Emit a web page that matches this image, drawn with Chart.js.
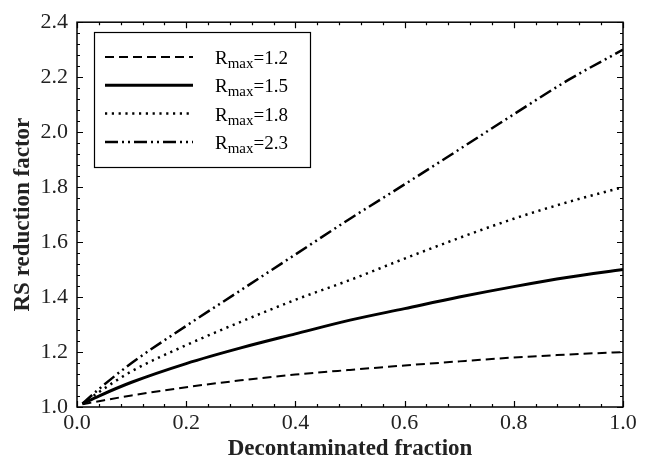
<!DOCTYPE html>
<html>
<head>
<meta charset="utf-8">
<script src="https://cdn.jsdelivr.net/npm/chart.js@4.4.1/dist/chart.umd.min.js"></script>
<style>
  html, body { margin: 0; padding: 0; background: #fff; }
</style>
</head>
<body>
<canvas id="chart" width="646" height="463"></canvas>
<script>
// values
const fraction = [0.01, 0.04, 0.1, 0.2, 0.3, 0.4, 0.5, 0.6, 0.7, 0.8, 0.9, 1.0];
const rmax12 = [1.010, 1.021, 1.042, 1.072, 1.097, 1.118, 1.135, 1.151, 1.166, 1.180, 1.191, 1.200];
const rmax15 = [1.012, 1.040, 1.090, 1.158, 1.215, 1.266, 1.316, 1.358, 1.400, 1.438, 1.472, 1.500];
const rmax18 = [1.012, 1.054, 1.130, 1.225, 1.310, 1.390, 1.462, 1.540, 1.615, 1.685, 1.746, 1.800];
const rmax23 = [1.012, 1.065, 1.160, 1.295, 1.425, 1.555, 1.685, 1.810, 1.937, 2.065, 2.190, 2.300];
const rmaxLabels = ['1.2', '1.5', '1.8', '2.3'];
const xTicks = [0, 0.2, 0.4, 0.6, 0.8, 1.0];
const yTicks = [1.0, 1.2, 1.4, 1.6, 1.8, 2.0, 2.2, 2.4];

const SERIF = '"Liberation Serif", "DejaVu Serif", serif';

function pts(ys) {
  return fraction.map((x, i) => ({ x, y: ys[i] }));
}

const styles = [
  { borderWidth: 2, borderDash: [9, 5] },
  { borderWidth: 3, borderDash: [] },
  { borderWidth: 2.5, borderDash: [2.2, 4.6] },
  { borderWidth: 2.5, borderDash: [13, 4, 2, 4, 2, 4] },
];

const datasets = [rmax12, rmax15, rmax18, rmax23].map((ys, i) => ({
  label: 'Rmax=' + rmaxLabels[i],
  data: pts(ys),
  borderColor: '#000',
  borderWidth: styles[i].borderWidth,
  borderDash: styles[i].borderDash,
  pointRadius: 0,
  fill: false,
  cubicInterpolationMode: 'monotone',
}));

// frame, inward ticks on all four sides, and the boxed legend
const framePlugin = {
  id: 'frame',
  afterDraw(chart) {
    const { ctx, chartArea: a, scales: { x, y } } = chart;
    ctx.save();
    ctx.strokeStyle = '#000';
    ctx.lineWidth = 1.5;
    ctx.setLineDash([]);
    ctx.strokeRect(a.left, a.top, a.right - a.left, a.bottom - a.top);

    ctx.lineWidth = 1.2;
    ctx.beginPath();
    for (let k = 0; k <= 25; k++) {
      const v = k * 0.04;
      const len = k % 5 === 0 ? 6 : 3;
      const px = Math.round(x.getPixelForValue(v)) + 0.5;
      ctx.moveTo(px, a.bottom); ctx.lineTo(px, a.bottom - len);
      ctx.moveTo(px, a.top); ctx.lineTo(px, a.top + len);
    }
    for (let k = 0; k <= 35; k++) {
      const v = 1 + k * 0.04;
      const len = k % 5 === 0 ? 6 : 3;
      const py = Math.round(y.getPixelForValue(v)) + 0.5;
      ctx.moveTo(a.left, py); ctx.lineTo(a.left + len, py);
      ctx.moveTo(a.right, py); ctx.lineTo(a.right - len, py);
    }
    ctx.stroke();

    // legend
    const bx = 94, by = 32, bw = 216, bh = 135;
    ctx.fillStyle = '#fff';
    ctx.fillRect(bx, by, bw, bh);
    ctx.lineWidth = 1.2;
    ctx.strokeRect(bx + 0.5, by + 0.5, bw, bh);

    chart.data.datasets.forEach((ds, i) => {
      const ly = 57 + i * 28.3;
      ctx.beginPath();
      ctx.lineWidth = ds.borderWidth;
      ctx.setLineDash(ds.borderDash);
      ctx.moveTo(105, ly);
      ctx.lineTo(193, ly);
      ctx.stroke();
      ctx.setLineDash([]);

      ctx.fillStyle = '#000';
      ctx.textBaseline = 'alphabetic';
      ctx.textAlign = 'left';
      let tx = 215;
      ctx.font = '19px ' + SERIF;
      ctx.fillText('R', tx, ly + 7);
      tx += ctx.measureText('R').width;
      ctx.font = '15px ' + SERIF;
      ctx.fillText('max', tx, ly + 11);
      tx += ctx.measureText('max').width;
      ctx.font = '19px ' + SERIF;
      ctx.fillText('=' + rmaxLabels[i], tx, ly + 7);
    });
    ctx.restore();
  }
};

new Chart(document.getElementById('chart'), {
  type: 'line',
  data: { datasets },
  options: {
    responsive: false,
    animation: false,
    devicePixelRatio: 1,
    layout: { padding: { top: 14, right: 23, left: 0, bottom: 0 } },
    plugins: { legend: { display: false }, tooltip: { enabled: false } },
    scales: {
      x: {
        type: 'linear',
        min: 0, max: 1,
        afterBuildTicks: s => { s.ticks = xTicks.map(v => ({ value: v })); },
        afterFit: s => { s.height = 56; },
        grid: { display: false, drawTicks: false },
        border: { display: false },
        ticks: {
          color: '#222',
          padding: 3,
          maxRotation: 0,
          font: { family: SERIF, size: 22 },
          callback: v => v.toFixed(1),
        },
        title: {
          display: true,
          text: 'Decontaminated fraction',
          color: '#222',
          font: { family: SERIF, size: 23, weight: 'bold' },
          padding: { top: 0, bottom: 0 },
        },
      },
      y: {
        type: 'linear',
        min: 1.0, max: 2.4,
        afterBuildTicks: s => { s.ticks = yTicks.map(v => ({ value: v })); },
        afterFit: s => { s.width = 77; },
        grid: { display: false, drawTicks: false },
        border: { display: false },
        ticks: {
          color: '#222',
          padding: 9,
          font: { family: SERIF, size: 22 },
          callback: v => v.toFixed(1),
        },
        title: {
          display: true,
          text: 'RS reduction factor',
          color: '#222',
          font: { family: SERIF, size: 23, weight: 'bold' },
          padding: { top: 9, bottom: 0 },
        },
      },
    },
  },
  plugins: [framePlugin],
});
</script>
</body>
</html>
